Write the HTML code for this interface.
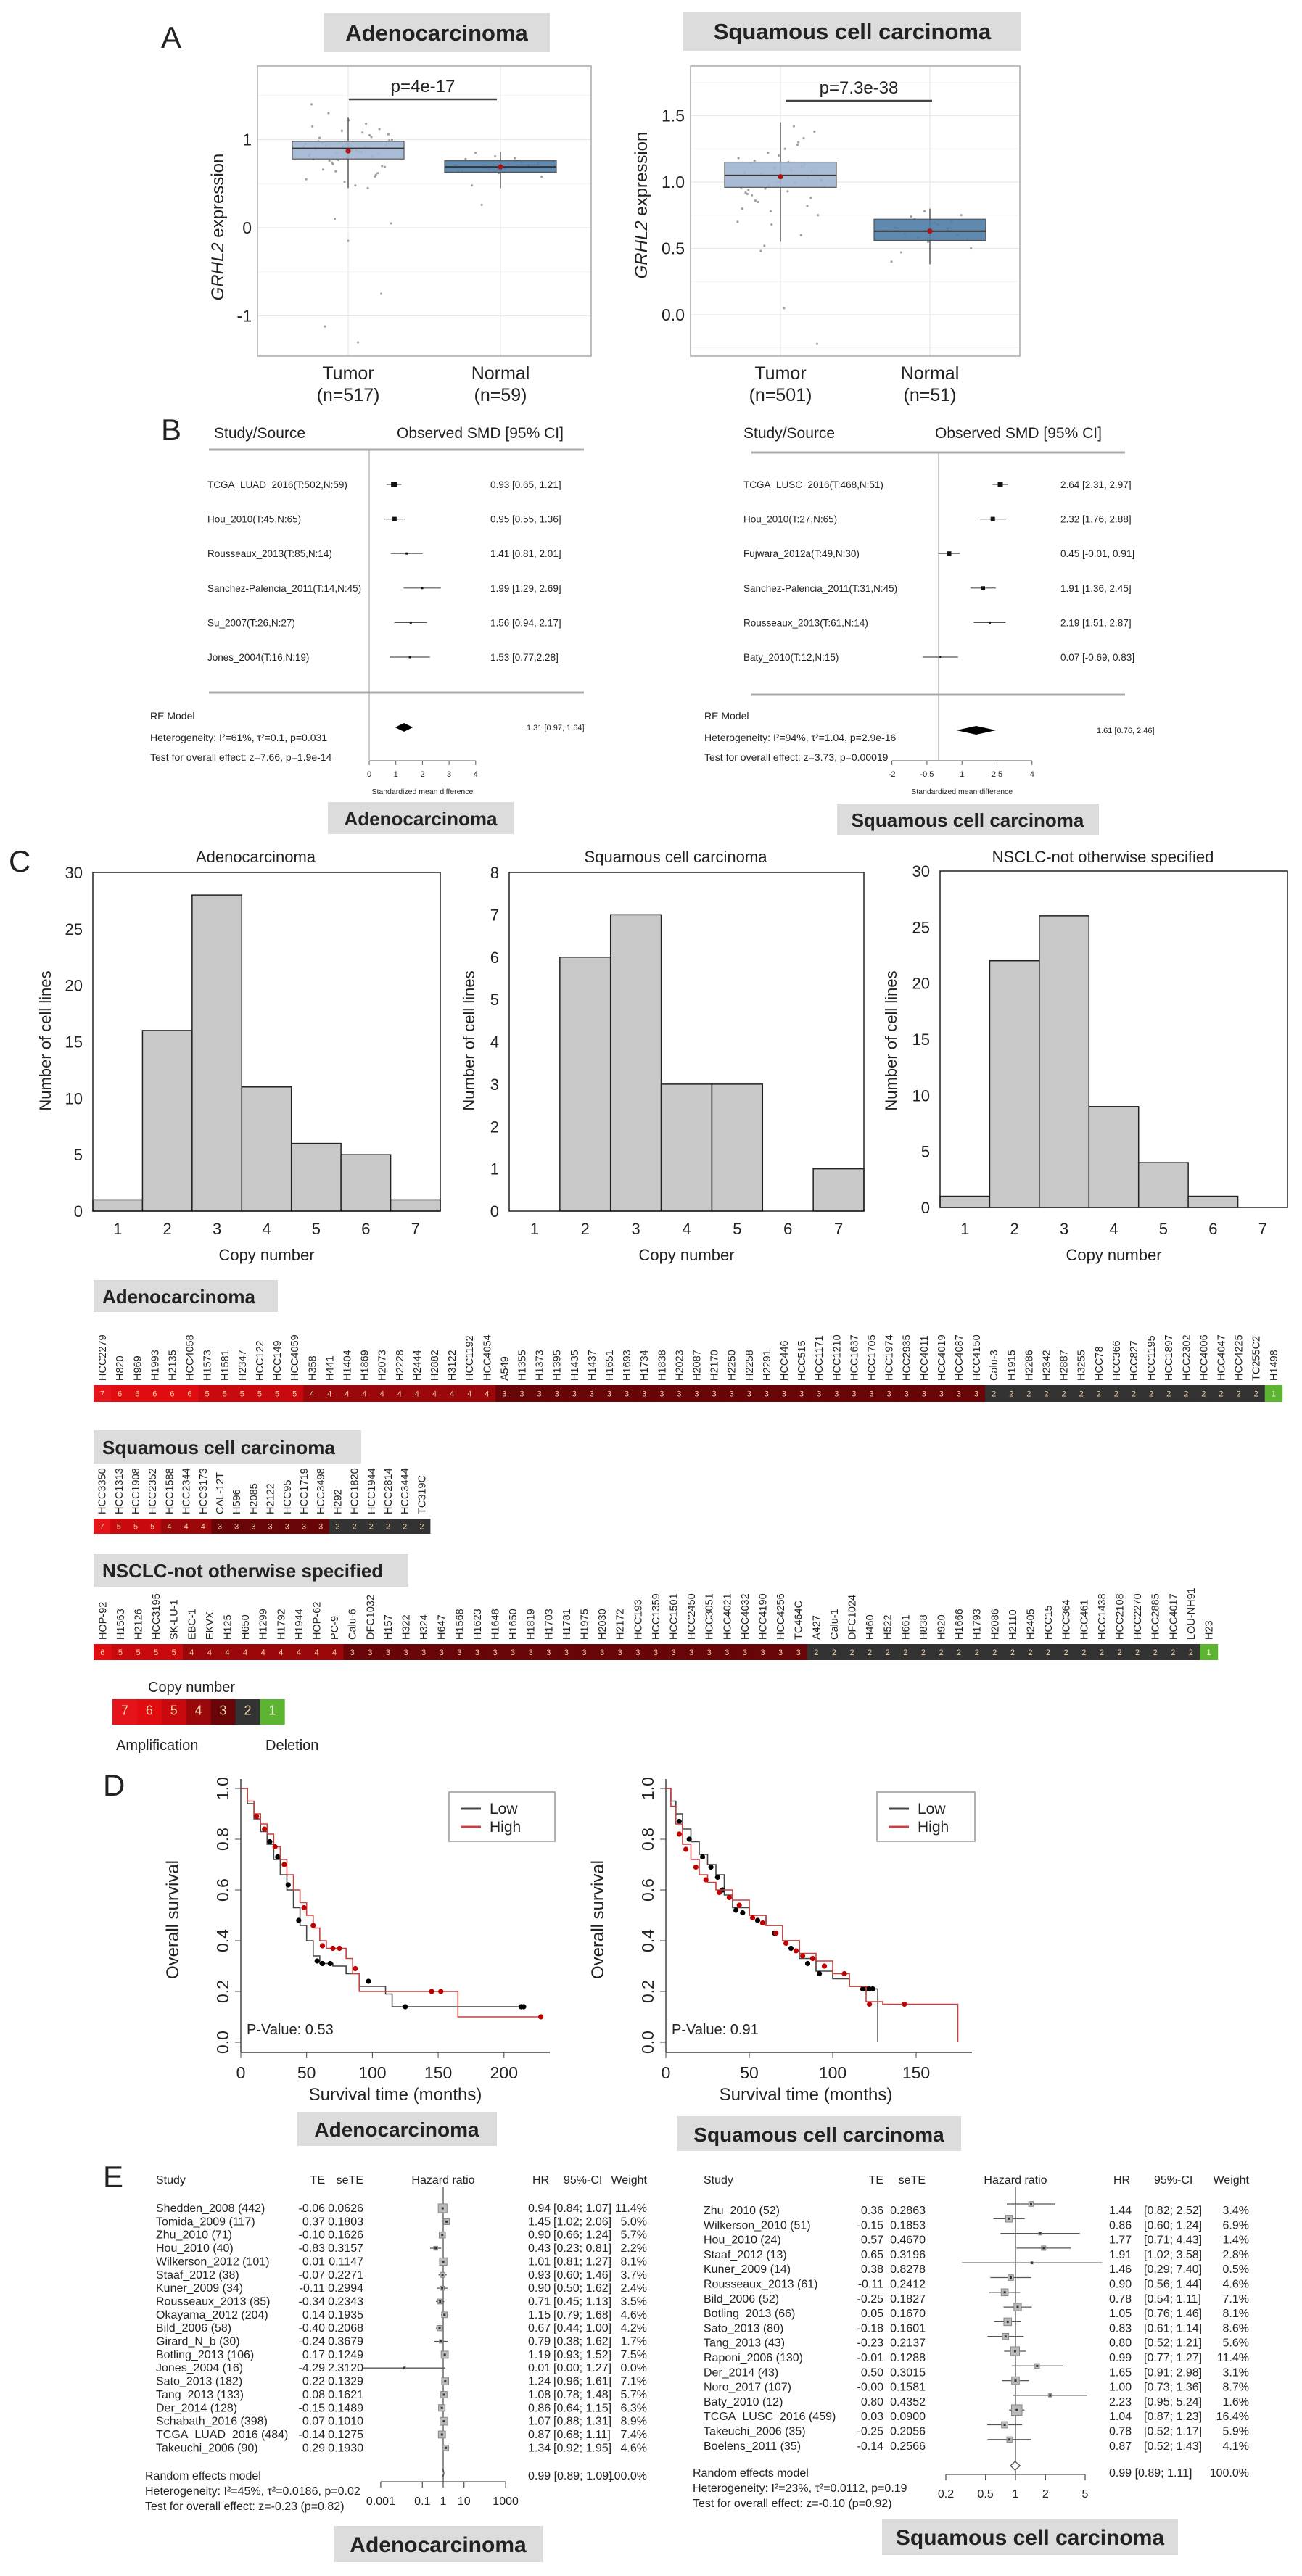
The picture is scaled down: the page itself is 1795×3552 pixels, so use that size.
<!DOCTYPE html>
<html><head><meta charset="utf-8">
<style>
body{margin:0;background:#fff}
svg{display:block;font-family:"Liberation Sans",Arial,sans-serif}
.t{fill:#222}
</style></head>
<body>
<svg id="fig" width="1795" height="3552" viewBox="0 0 1795 3552" xmlns="http://www.w3.org/2000/svg">
<rect x="0" y="0" width="1795" height="3552" fill="#fff"/>
<!-- panel letters -->
<text x="222" y="66" font-size="42" class="t">A</text>
<text x="222" y="607" font-size="42" class="t">B</text>
<text x="12" y="1202" font-size="42" class="t">C</text>
<text x="142" y="2476" font-size="42" class="t">D</text>
<text x="142" y="3016" font-size="42" class="t">E</text>

<!-- title boxes -->
<g><rect x="446" y="18" width="312" height="54" fill="#dcdcdc"/><text x="602" y="56" font-size="31" font-weight="bold" text-anchor="middle" class="t">Adenocarcinoma</text></g>
<g><rect x="942" y="16" width="466" height="54" fill="#dcdcdc"/><text x="1175" y="54" font-size="31" font-weight="bold" text-anchor="middle" class="t">Squamous cell carcinoma</text></g>
<g><rect x="452" y="1106" width="256" height="44" fill="#dcdcdc"/><text x="580" y="1138" font-size="26" font-weight="bold" text-anchor="middle" class="t">Adenocarcinoma</text></g>
<g><rect x="1154" y="1108" width="361" height="44" fill="#dcdcdc"/><text x="1334" y="1140" font-size="26" font-weight="bold" text-anchor="middle" class="t">Squamous cell carcinoma</text></g>
<g><rect x="129" y="1765" width="254" height="44" fill="#dcdcdc"/><text x="141" y="1797" font-size="26" font-weight="bold" class="t">Adenocarcinoma</text></g>
<g><rect x="129" y="1972" width="369" height="46" fill="#dcdcdc"/><text x="141" y="2005" font-size="26" font-weight="bold" class="t">Squamous cell carcinoma</text></g>
<g><rect x="129" y="2143" width="434" height="45" fill="#dcdcdc"/><text x="141" y="2175" font-size="26" font-weight="bold" class="t">NSCLC-not otherwise specified</text></g>
<g><rect x="410" y="2912" width="275" height="47" fill="#dcdcdc"/><text x="547" y="2946" font-size="28" font-weight="bold" text-anchor="middle" class="t">Adenocarcinoma</text></g>
<g><rect x="933" y="2918" width="392" height="48" fill="#dcdcdc"/><text x="1129" y="2953" font-size="28" font-weight="bold" text-anchor="middle" class="t">Squamous cell carcinoma</text></g>
<g><rect x="460" y="3483" width="289" height="50" fill="#dcdcdc"/><text x="604" y="3519" font-size="30" font-weight="bold" text-anchor="middle" class="t">Adenocarcinoma</text></g>
<g><rect x="1216" y="3473" width="408" height="50" fill="#dcdcdc"/><text x="1420" y="3509" font-size="30" font-weight="bold" text-anchor="middle" class="t">Squamous cell carcinoma</text></g>

<!-- copy number legend -->
<text x="204" y="2333" font-size="20" class="t">Copy number</text>
<text x="160" y="2413" font-size="20" class="t">Amplification</text>
<text x="366" y="2413" font-size="20" class="t">Deletion</text>
</svg>
<script>
const NS='http://www.w3.org/2000/svg';
const svg=document.getElementById('fig');
function add(tag,attrs,parent){const e=document.createElementNS(NS,tag);for(const k in attrs)e.setAttribute(k,attrs[k]);(parent||svg).appendChild(e);return e;}
function txt(x,y,s,attrs,parent){const e=add('text',Object.assign({x:x,y:y,fill:'#222'},attrs||{}),parent);e.textContent=s;return e;}
function fmt(v){if(Object.is(v,-0))return '-0.00';return v.toFixed(2);}

/* ================= PANEL A data ================= */
const boxGroups=['Tumor','Normal'];
const adenoN=['(n=517)','(n=59)'];
const squN=['(n=501)','(n=51)'];
const adenoQ1=[0.78,0.63], adenoMed=[0.90,0.69], adenoQ3=[0.98,0.76], adenoLo=[0.45,0.45], adenoHi=[1.25,0.86], adenoMean=[0.87,0.69];
const squQ1=[0.96,0.56], squMed=[1.05,0.63], squQ3=[1.15,0.72], squLo=[0.55,0.38], squHi=[1.45,0.80], squMean=[1.04,0.63];
const adenoTumorPts=[0.92,0.85,1.05,0.78,0.95,1.12,0.66,0.88,0.99,0.72,1.18,0.83,0.91,0.60,1.02,0.87,0.94,0.76,1.08,0.55,0.97,0.81,0.89,1.22,0.70,0.93,0.86,1.00,0.64,0.90,1.15,0.79,0.84,0.96,0.48,1.06,0.74,0.92,0.82,1.10,0.58,0.98,0.88,0.69,1.30,0.86,0.95,0.77,1.03,0.91,-0.15,-0.75,-1.12,-1.30,0.05,0.10,0.45,1.40,0.52,0.62];
const adenoNormalPts=[0.70,0.66,0.74,0.78,0.62,0.69,0.85,0.72,0.58,0.68,0.76,0.64,0.81,0.71,0.48,0.67,0.73,0.26,0.79,0.65];
const squTumorPts=[1.05,0.98,1.12,0.92,1.20,1.08,0.86,1.15,1.01,0.95,1.30,0.80,1.10,1.03,0.90,1.25,0.75,1.06,0.99,1.18,0.68,1.13,0.94,1.04,1.38,0.85,1.09,0.97,1.22,0.60,1.07,1.00,0.88,1.16,0.93,1.02,0.52,1.28,0.96,1.11,0.82,1.14,0.05,-0.22,0.48,1.42,0.70,0.78,1.33,0.91];
const squNormalPts=[0.63,0.58,0.70,0.66,0.55,0.75,0.61,0.68,0.50,0.72,0.64,0.40,0.78,0.60,0.47,0.69,0.57,0.74];
const adenoTicks=[-1,0,1], squTicks=[0.0,0.5,1.0,1.5];

function boxPanel(o){
  const y=v=>o.y0-v*o.k;
  const g=add('g',{});
  
  
  add('rect',{x:o.x1,y:91,width:o.x2-o.x1,height:400,fill:'#fff'},g);
  // minor grid
  for(let i=0;i<o.ticks.length;i++){
    const m=o.ticks[i]+o.step/2; if(y(m)>91&&y(m)<491) add('line',{x1:o.x1,x2:o.x2,y1:y(m),y2:y(m),stroke:'#f4f4f4','stroke-width':1},g);
    const m2=o.ticks[i]-o.step/2; if(i==0&&y(m2)>91&&y(m2)<491) add('line',{x1:o.x1,x2:o.x2,y1:y(m2),y2:y(m2),stroke:'#f4f4f4','stroke-width':1},g);
  }
  o.ticks.forEach((t,i)=>{
    const gl=add('line',{x1:o.x1,x2:o.x2,y1:y(t),y2:y(t),stroke:'#e8e8e8','stroke-width':1.2},g);
    
    
    const tl=txt(o.x1-8,y(t)+8,o.tickLabels[i],{'font-size':23,'text-anchor':'end'},g);
    
    
  });
  o.cx.forEach(c=>add('line',{x1:c,x2:c,y1:91,y2:491,stroke:'#e8e8e8','stroke-width':1.2},g));
  // points
  o.pts.forEach((arr,gi)=>{
    arr.forEach((v,i)=>{
      const dx=(((i*37)%100)/100-0.5)*o.hw*1.6;
      const p=add('circle',{cx:o.cx[gi]+dx,cy:y(v),r:1.6,fill:'#555','fill-opacity':0.55},g);
      
      
    });
  });
  for(let gi=0;gi<2;gi++){
    const c=o.cx[gi];
    const wl=add('line',{x1:c,x2:c,y1:y(o.hi[gi]),y2:y(o.lo[gi]),stroke:'#333','stroke-width':1.2},g);
    
    
    const b=add('rect',{x:c-o.hw,y:y(o.q3[gi]),width:2*o.hw,height:y(o.q1[gi])-y(o.q3[gi]),fill:gi==0?'#9fb5d1':'#4f7ca7','fill-opacity':0.9,stroke:'#555','stroke-width':1.2},g);
    
    
    add('line',{x1:c-o.hw,x2:c+o.hw,y1:y(o.med[gi]),y2:y(o.med[gi]),stroke:'#333','stroke-width':2},g);
    const m=add('circle',{cx:c,cy:y(o.mean[gi]),r:3.5,fill:'#b01010'},g);
    
    
    const gl=txt(c,523,boxGroups[gi],{'font-size':25,'text-anchor':'middle'},g);
    
    
    const nl=txt(c,553,o.nl[gi],{'font-size':25,'text-anchor':'middle'},g);
    
    
  }
  add('rect',{x:o.x1,y:91,width:o.x2-o.x1,height:400,fill:'none',stroke:'#aaa','stroke-width':1.5},g);
  // p bar
  add('line',{x1:o.pb[0],x2:o.pb[1],y1:o.pby,y2:o.pby,stroke:'#444','stroke-width':2.5},g);
  const pt=txt((o.pb[0]+o.pb[1])/2,o.pby-10,o.ptext,{'font-size':24,'text-anchor':'middle'},g);
  
  
  const yt=add('text',{x:o.ytx,y:o.yty,'font-size':24,'text-anchor':'middle',fill:'#222',transform:`rotate(-90 ${o.ytx} ${o.yty})`},g);
  yt.innerHTML='<tspan font-style="italic">GRHL2</tspan> expression';
  
  
}
boxPanel({name:'boxplot-adeno',x1:355,x2:815,y0:314,k:121.5,ticks:adenoTicks,tickLabels:['-1','0','1'],step:1,cx:[480,690],hw:77,
  q1:adenoQ1,med:adenoMed,q3:adenoQ3,lo:adenoLo,hi:adenoHi,mean:adenoMean,pts:[adenoTumorPts,adenoNormalPts],nl:adenoN,pb:[481,685],pby:137,ptext:'p=4e-17',ytx:308,yty:313});
boxPanel({name:'boxplot-squamous',x1:952,x2:1406,y0:434,k:183,ticks:squTicks,tickLabels:['0.0','0.5','1.0','1.5'],step:0.5,cx:[1076,1282],hw:77,
  q1:squQ1,med:squMed,q3:squQ3,lo:squLo,hi:squHi,mean:squMean,pts:[squTumorPts,squNormalPts],nl:squN,pb:[1083,1285],pby:139,ptext:'p=7.3e-38',ytx:892,yty:283});

/* ================= PANEL B data ================= */
const bStudiesL=['TCGA_LUAD_2016(T:502,N:59)','Hou_2010(T:45,N:65)','Rousseaux_2013(T:85,N:14)','Sanchez-Palencia_2011(T:14,N:45)','Su_2007(T:26,N:27)','Jones_2004(T:16,N:19)'];
const bSmdL=[0.93,0.95,1.41,1.99,1.56,1.53];
const bLoL=[0.65,0.55,0.81,1.29,0.94,0.77];
const bHiL=[1.21,1.36,2.01,2.69,2.17,2.28];
const bTxtL=['0.93 [0.65, 1.21]','0.95 [0.55, 1.36]','1.41 [0.81, 2.01]','1.99 [1.29, 2.69]','1.56 [0.94, 2.17]','1.53 [0.77,2.28]'];
const bSizeL=[8,6,3,3,3,3];
const bStudiesR=['TCGA_LUSC_2016(T:468,N:51)','Hou_2010(T:27,N:65)','Fujwara_2012a(T:49,N:30)','Sanchez-Palencia_2011(T:31,N:45)','Rousseaux_2013(T:61,N:14)','Baty_2010(T:12,N:15)'];
const bSmdR=[2.64,2.32,0.45,1.91,2.19,0.07];
const bLoR=[2.31,1.76,-0.01,1.36,1.51,-0.69];
const bHiR=[2.97,2.88,0.91,2.45,2.87,0.83];
const bTxtR=['2.64 [2.31, 2.97]','2.32 [1.76, 2.88]','0.45 [-0.01, 0.91]','1.91 [1.36, 2.45]','2.19 [1.51, 2.87]','0.07 [-0.69, 0.83]'];
const bSizeR=[7,6,6,5,3,2];
const bRE=[1.31,0.97,1.64], bRER=[1.61,0.76,2.46];
const bTicksL=[0,1,2,3,4], bTicksR=[-2,-0.5,1,2.5,4];

function forestB(o){
  const x=v=>o.x0+v*o.k;
  const g=add('g',{});
  
  
  txt(o.hx1,604,'Study/Source',{'font-size':21},g);
  txt(o.hx2,604,'Observed SMD [95% CI]',{'font-size':21},g);
  add('line',{x1:o.l1,x2:o.l2,y1:o.ly,y2:o.ly,stroke:'#aaa','stroke-width':3},g);
  add('line',{x1:o.l1,x2:o.l2,y1:o.by,y2:o.by,stroke:'#aaa','stroke-width':3},g);
  add('line',{x1:o.x0,x2:o.x0,y1:o.ly,y2:1048,stroke:'#999','stroke-width':1},g);
  o.st.forEach((s,i)=>{
    const yy=668+i*47.6;
    const l=txt(o.lx,yy+5,s,{'font-size':13.5},g);
    
    
    const ci=add('line',{x1:x(o.lo[i]),x2:x(o.hi[i]),y1:yy,y2:yy,stroke:'#555','stroke-width':1.2},g);
    
    
    const sz=o.sz[i];
    const sq=add('rect',{x:x(o.v[i])-sz/2,y:yy-sz/2,width:sz,height:sz,fill:'#111'},g);
    
    
    const vt=txt(o.vx,yy+5,o.tx[i],{'font-size':13.5},g);
    
    
  });
  txt(o.rx,992,'RE Model',{'font-size':14},g);
  txt(o.rx,1022,o.het,{'font-size':14},g);
  txt(o.rx,1049,o.test,{'font-size':14},g);
  const d=o.re, dy=o.dy;
  const dm=add('polygon',{points:`${x(d[1])},${dy} ${x(d[0])},${dy-6} ${x(d[2])},${dy} ${x(d[0])},${dy+6}`,fill:'#000'},g);
  
  
  txt(o.vx+50,dy+4,`${d[0].toFixed(2)} [${d[1].toFixed(2)}, ${d[2].toFixed(2)}]`,{'font-size':11},g);
  const ay=1049;
  add('line',{x1:x(o.ticks[0]),x2:x(o.ticks[o.ticks.length-1]),y1:ay,y2:ay,stroke:'#555','stroke-width':1},g);
  o.ticks.forEach(t=>{add('line',{x1:x(t),x2:x(t),y1:ay,y2:ay+6,stroke:'#555'},g);
    const tl=txt(x(t),1071,String(t),{'font-size':11,'text-anchor':'middle'},g);
    
    });
  txt((x(o.ticks[0])+x(o.ticks[o.ticks.length-1]))/2,1095,'Standardized mean difference',{'font-size':10.5,'text-anchor':'middle'},g);
}
forestB({name:'forest-smd-adeno',x0:509,k:36.7,hx1:295,hx2:547,l1:288,l2:805,ly:620,by:955,lx:286,vx:676,rx:207,st:bStudiesL,v:bSmdL,lo:bLoL,hi:bHiL,tx:bTxtL,sz:bSizeL,re:bRE,dy:1003,ticks:bTicksL,
  het:'Heterogeneity: I²=61%, τ²=0.1, p=0.031',test:'Test for overall effect: z=7.66, p=1.9e-14'});
forestB({name:'forest-smd-squamous',x0:1294,k:32.2,hx1:1025,hx2:1289,l1:1036,l2:1551,ly:624,by:958,lx:1025,vx:1462,rx:971,st:bStudiesR,v:bSmdR,lo:bLoR,hi:bHiR,tx:bTxtR,sz:bSizeR,re:bRER,dy:1007,ticks:bTicksR,
  het:'Heterogeneity: I²=94%, τ²=1.04, p=2.9e-16',test:'Test for overall effect: z=3.73, p=0.00019'});

/* ================= PANEL C data ================= */
const cnCategories=[1,2,3,4,5,6,7];
const adenoCounts=[1,16,28,11,6,5,1];
const squCounts=[0,6,7,3,3,0,1];
const nosCounts=[1,22,26,9,4,1,0];
const adenoYTicks=[0,5,10,15,20,25,30];
const squYTicks=[0,1,2,3,4,5,6,7,8];
const nosYTicks=[0,5,10,15,20,25,30];

function hist(o){
  const g=add('g',{});
  
  
  const ymax=o.ticks[o.ticks.length-1];
  const y=v=>o.yb-(v/ymax)*(o.yb-o.yt);
  const bw=(o.x2-o.x1)/cnCategories.length;
  txt((o.x1+o.x2)/2-15,1189,o.title,{'font-size':22,'text-anchor':'middle'},g);
  o.counts.forEach((c,i)=>{
    if(c>0){const b=add('rect',{x:o.x1+i*bw,y:y(c),width:bw,height:o.yb-y(c),fill:'#c8c8c8',stroke:'#222','stroke-width':1.5},g);
    
    }
    const tl=txt(o.x1+(i+0.5)*bw,1702,String(cnCategories[i]),{'font-size':22,'text-anchor':'middle'},g);
    
    
  });
  o.ticks.forEach(t=>{
    const tl=txt(o.x1-14,y(t)+8,String(t),{'font-size':22,'text-anchor':'end'},g);
    
    
  });
  add('rect',{x:o.x1,y:o.yt,width:o.x2-o.x1,height:o.yb-o.yt,fill:'none',stroke:'#222','stroke-width':1.5},g);
  txt((o.x1+o.x2)/2,1738,'Copy number',{'font-size':22,'text-anchor':'middle'},g);
  txt(o.ytx,1435,'Number of cell lines',{'font-size':22,'text-anchor':'middle',transform:`rotate(-90 ${o.ytx} 1435)`},g);
}
hist({name:'hist-adeno',x1:128,x2:607,yt:1203,yb:1670,counts:adenoCounts,ticks:adenoYTicks,title:'Adenocarcinoma',ytx:70});
hist({name:'hist-squamous',x1:702,x2:1191,yt:1203,yb:1670,counts:squCounts,ticks:squYTicks,title:'Squamous cell carcinoma',ytx:654});
hist({name:'hist-nsclc-nos',x1:1296,x2:1775,yt:1201,yb:1665,counts:nosCounts,ticks:nosYTicks,title:'NSCLC-not otherwise specified',ytx:1236});

/* ================= heatmaps ================= */
const adenoLines=['HCC2279','H820','H969','H1993','H2135','HCC4058','H1573','H1581','H2347','HCC122','HCC149','HCC4059','H358','H441','H1404','H1869','H2073','H2228','H2444','H2882','H3122','HCC1192','HCC4054','A549','H1355','H1373','H1395','H1435','H1437','H1651','H1693','H1734','H1838','H2023','H2087','H2170','H2250','H2258','H2291','HCC446','HCC515','HCC1171','HCC1210','HCC1637','HCC1705','HCC1974','HCC2935','HCC4011','HCC4019','HCC4087','HCC4150','Calu-3','H1915','H2286','H2342','H2887','H3255','HCC78','HCC366','HCC827','HCC1195','HCC1897','HCC2302','HCC4006','HCC4047','HCC4225','TC255C2','H1498'];
const adenoCN=[7,6,6,6,6,6,5,5,5,5,5,5,4,4,4,4,4,4,4,4,4,4,4,3,3,3,3,3,3,3,3,3,3,3,3,3,3,3,3,3,3,3,3,3,3,3,3,3,3,3,3,2,2,2,2,2,2,2,2,2,2,2,2,2,2,2,2,1];
const squLines=['HCC3350','HCC1313','HCC1908','HCC2352','HCC1588','HCC2344','HCC3173','CAL-12T','H596','H2085','H2122','HCC95','HCC1719','HCC3498','H292','HCC1820','HCC1944','HCC2814','HCC3444','TC319C'];
const squCN=[7,5,5,5,4,4,4,3,3,3,3,3,3,3,2,2,2,2,2,2];
const nosLines=['HOP-92','H1563','H2126','HCC3195','SK-LU-1','EBC-1','EKVX','H125','H650','H1299','H1792','H1944','HOP-62','PC-9','Calu-6','DFC1032','H157','H322','H324','H647','H1568','H1623','H1648','H1650','H1819','H1703','H1781','H1975','H2030','H2172','HCC193','HCC1359','HCC1501','HCC2450','HCC3051','HCC4021','HCC4032','HCC4190','HCC4256','TC464C','A427','Calu-1','DFC1024','H460','H522','H661','H838','H920','H1666','H1793','H2086','H2110','H2405','HCC15','HCC364','HCC461','HCC1438','HCC2108','HCC2270','HCC2885','HCC4017','LOU-NH91','H23'];
const nosCN=[6,5,5,5,5,4,4,4,4,4,4,4,4,4,3,3,3,3,3,3,3,3,3,3,3,3,3,3,3,3,3,3,3,3,3,3,3,3,3,3,2,2,2,2,2,2,2,2,2,2,2,2,2,2,2,2,2,2,2,2,2,2,1];
const legendCN=[7,6,5,4,3,2,1];
const cnColor={7:'#e4141a',6:'#e00c10',5:'#c80a0e',4:'#9a080c',3:'#680508',2:'#333333',1:'#5cb432'};

function heat(o){
  const g=add('g',{});
  
  
  o.cn.forEach((c,i)=>{
    const x=o.x+i*o.w;
    const cell=add('rect',{x:x,y:o.y,width:o.w+0.4,height:o.h,fill:cnColor[c]},g);
    
    
    const n=txt(x+o.w/2,o.y+o.h/2+4,String(c),{'font-size':o.fs||11,'text-anchor':'middle',fill:c==1?'#e8f5d0':'#f3d2a8'},g);
    
    
    if(o.names){
      const lx=x+o.w/2+5, ly=o.y-6;
      const l=txt(lx,ly,o.names[i],{'font-size':14.5,transform:`rotate(-90 ${lx} ${ly})`},g);
      
      
    }
  });
}
heat({name:'heatmap-adeno',x:129,y:1910,w:24.1,h:23,cn:adenoCN,names:adenoLines});
heat({name:'heatmap-squamous',x:129,y:2094,w:23.2,h:21,cn:squCN,names:squLines});
heat({name:'heatmap-nsclc-nos',x:129,y:2267,w:24.6,h:22,cn:nosCN,names:nosLines});
heat({name:'cn-legend-strip',x:155,y:2343,w:33.9,h:35,cn:legendCN,fs:18});

/* ================= PANEL D data ================= */
const kmAdenoLowT=[0,5,10,15,20,25,30,35,40,45,50,55,60,70,80,90,100,110,115,215];
const kmAdenoLowS=[1,0.94,0.88,0.83,0.78,0.72,0.66,0.60,0.53,0.46,0.40,0.34,0.31,0.30,0.27,0.22,0.22,0.19,0.14,0.14];
const kmAdenoHighT=[0,5,10,15,20,25,30,35,40,45,50,55,60,65,80,85,90,165,228];
const kmAdenoHighS=[1,0.95,0.90,0.86,0.82,0.77,0.72,0.66,0.60,0.55,0.50,0.45,0.40,0.37,0.33,0.27,0.20,0.10,0.10];
const kmAdenoLowCensT=[22,28,36,44,58,62,68,97,125,213,215];
const kmAdenoLowCensS=[0.79,0.73,0.62,0.48,0.32,0.31,0.31,0.24,0.14,0.14,0.14];
const kmAdenoHighCensT=[12,18,26,33,48,55,62,70,75,87,145,152,228];
const kmAdenoHighCensS=[0.89,0.84,0.77,0.70,0.53,0.46,0.38,0.37,0.37,0.29,0.20,0.20,0.10];
const kmSquLowT=[0,3,6,10,15,20,25,30,35,40,50,60,70,80,90,100,110,120,127];
const kmSquLowS=[1,0.95,0.90,0.84,0.79,0.74,0.70,0.66,0.58,0.53,0.50,0.46,0.40,0.33,0.28,0.25,0.22,0.21,0.0];
const kmSquHighT=[0,3,6,10,15,20,25,30,40,50,60,70,80,90,100,110,120,130,175];
const kmSquHighS=[1,0.93,0.86,0.78,0.72,0.66,0.63,0.60,0.56,0.50,0.46,0.40,0.35,0.32,0.27,0.22,0.16,0.15,0.0];
const kmSquLowCensT=[8,14,22,27,31,34,42,46,55,65,75,85,92,118,120,122,124];
const kmSquLowCensS=[0.87,0.80,0.73,0.69,0.65,0.60,0.52,0.51,0.48,0.43,0.37,0.31,0.27,0.21,0.21,0.21,0.21];
const kmSquHighCensT=[8,12,18,24,32,38,44,52,58,66,72,78,82,88,95,107,122,143];
const kmSquHighCensS=[0.82,0.76,0.69,0.64,0.59,0.57,0.54,0.49,0.47,0.43,0.39,0.36,0.34,0.33,0.30,0.27,0.15,0.15];
const kmYTicks=[0,0.2,0.4,0.6,0.8,1.0];
const kmAdenoXTicks=[0,50,100,150,200];
const kmSquXTicks=[0,50,100,150];

function km(o){
  const g=add('g',{});
  
  
  const x=t=>o.x0+t*o.k;
  const y=s=>2816-s*350;
  // axes
  add('line',{x1:o.x0,x2:o.xe,y1:2830,y2:2830,stroke:'#444','stroke-width':1.5},g);
  add('line',{x1:o.x0,x2:o.x0,y1:2453,y2:2830,stroke:'#444','stroke-width':1.5},g);
  o.xt.forEach(t=>{add('line',{x1:x(t),x2:x(t),y1:2830,y2:2838,stroke:'#444'},g);
    const tl=txt(x(t),2866,String(t),{'font-size':23,'text-anchor':'middle'},g);
    
    });
  kmYTicks.forEach(s=>{add('line',{x1:o.x0-8,x2:o.x0,y1:y(s),y2:y(s),stroke:'#444'},g);
    const lx=o.x0-17;
    const tl=txt(lx,y(s),s.toFixed(1),{'font-size':23,'text-anchor':'middle',transform:`rotate(-90 ${lx} ${y(s)})`},g);
    
    });
  txt(o.x0-86,2647,'Overall survival',{'font-size':24,'text-anchor':'middle',transform:`rotate(-90 ${o.x0-86} 2647)`},g);
  txt(o.xc,2896,'Survival time (months)',{'font-size':24,'text-anchor':'middle'},g);
  const series=[[o.lt,o.ls,'#444','#000',o.lct,o.lcs,'km-curve-low'],[o.ht,o.hs,'#c84040','#c00000',o.hct,o.hcs,'km-curve-high']];
  series.forEach(([T,S,col,dot,CT,CS,nm])=>{
    let d=`M${x(T[0])},${y(S[0])}`;
    for(let i=1;i<T.length;i++){d+=` H${x(T[i])} V${y(S[i])}`;}
    const p=add('path',{d:d,fill:'none',stroke:col,'stroke-width':1.6},g);
    
    
    CT.forEach((t,i)=>{const c=add('circle',{cx:x(t),cy:y(CS[i]),r:3.6,fill:dot},g);
      
      });
  });
  const lg=add('g',{},g);
  
  
  add('rect',{x:o.lx,y:2471,width:o.lw,height:68,fill:'#fff',stroke:'#999','stroke-width':1.5},lg);
  add('line',{x1:o.lx+16,x2:o.lx+44,y1:2494,y2:2494,stroke:'#444','stroke-width':3},lg);
  add('line',{x1:o.lx+16,x2:o.lx+44,y1:2519,y2:2519,stroke:'#c84040','stroke-width':3},lg);
  txt(o.lx+56,2501,'Low',{'font-size':21},lg);
  txt(o.lx+56,2526,'High',{'font-size':21},lg);
  const pv=txt(o.x0+8,2805,o.pv,{'font-size':20},g);
  
  
}
km({name:'km-adeno',x0:332,xe:758,k:1.814,xt:kmAdenoXTicks,xc:545,lt:kmAdenoLowT,ls:kmAdenoLowS,ht:kmAdenoHighT,hs:kmAdenoHighS,lct:kmAdenoLowCensT,lcs:kmAdenoLowCensS,hct:kmAdenoHighCensT,hcs:kmAdenoHighCensS,lx:619,lw:146,pv:'P-Value: 0.53'});
km({name:'km-squamous',x0:918,xe:1340,k:2.3,xt:kmSquXTicks,xc:1111,lt:kmSquLowT,ls:kmSquLowS,ht:kmSquHighT,hs:kmSquHighS,lct:kmSquLowCensT,lcs:kmSquLowCensS,hct:kmSquHighCensT,hcs:kmSquHighCensS,lx:1209,lw:135,pv:'P-Value: 0.91'});

/* ================= PANEL E data ================= */
const eStudiesL=['Shedden_2008 (442)','Tomida_2009 (117)','Zhu_2010 (71)','Hou_2010 (40)','Wilkerson_2012 (101)','Staaf_2012 (38)','Kuner_2009 (34)','Rousseaux_2013 (85)','Okayama_2012 (204)','Bild_2006 (58)','Girard_N_b (30)','Botling_2013 (106)','Jones_2004 (16)','Sato_2013 (182)','Tang_2013 (133)','Der_2014 (128)','Schabath_2016 (398)','TCGA_LUAD_2016 (484)','Takeuchi_2006 (90)'];
const eTeL=[-0.06,0.37,-0.10,-0.83,0.01,-0.07,-0.11,-0.34,0.14,-0.40,-0.24,0.17,-4.29,0.22,0.08,-0.15,0.07,-0.14,0.29];
const eSeL=[0.0626,0.1803,0.1626,0.3157,0.1147,0.2271,0.2994,0.2343,0.1935,0.2068,0.3679,0.1249,2.3120,0.1329,0.1621,0.1489,0.1010,0.1275,0.1930];
const eHrL=['0.94','1.45','0.90','0.43','1.01','0.93','0.90','0.71','1.15','0.67','0.79','1.19','0.01','1.24','1.08','0.86','1.07','0.87','1.34'];
const eCiL=['[0.84; 1.07]','[1.02; 2.06]','[0.66; 1.24]','[0.23; 0.81]','[0.81; 1.27]','[0.60; 1.46]','[0.50; 1.62]','[0.45; 1.13]','[0.79; 1.68]','[0.44; 1.00]','[0.38; 1.62]','[0.93; 1.52]','[0.00; 1.27]','[0.96; 1.61]','[0.78; 1.48]','[0.64; 1.15]','[0.88; 1.31]','[0.68; 1.11]','[0.92; 1.95]'];
const eWL=[11.4,5.0,5.7,2.2,8.1,3.7,2.4,3.5,4.6,4.2,1.7,7.5,0.0,7.1,5.7,6.3,8.9,7.4,4.6];
const eStudiesR=['Zhu_2010 (52)','Wilkerson_2010 (51)','Hou_2010 (24)','Staaf_2012 (13)','Kuner_2009 (14)','Rousseaux_2013 (61)','Bild_2006 (52)','Botling_2013 (66)','Sato_2013 (80)','Tang_2013 (43)','Raponi_2006 (130)','Der_2014 (43)','Noro_2017 (107)','Baty_2010 (12)','TCGA_LUSC_2016 (459)','Takeuchi_2006 (35)','Boelens_2011 (35)'];
const eTeR=[0.36,-0.15,0.57,0.65,0.38,-0.11,-0.25,0.05,-0.18,-0.23,-0.01,0.50,-0.00,0.80,0.03,-0.25,-0.14];
const eSeR=[0.2863,0.1853,0.4670,0.3196,0.8278,0.2412,0.1827,0.1670,0.1601,0.2137,0.1288,0.3015,0.1581,0.4352,0.0900,0.2056,0.2566];
const eHrR=['1.44','0.86','1.77','1.91','1.46','0.90','0.78','1.05','0.83','0.80','0.99','1.65','1.00','2.23','1.04','0.78','0.87'];
const eCiR=['[0.82; 2.52]','[0.60; 1.24]','[0.71; 4.43]','[1.02; 3.58]','[0.29; 7.40]','[0.56; 1.44]','[0.54; 1.11]','[0.76; 1.46]','[0.61; 1.14]','[0.52; 1.21]','[0.77; 1.27]','[0.91; 2.98]','[0.73; 1.36]','[0.95; 5.24]','[0.87; 1.23]','[0.52; 1.17]','[0.52; 1.43]'];
const eWR=[3.4,6.9,1.4,2.8,0.5,4.6,7.1,8.1,8.6,5.6,11.4,3.1,8.7,1.6,16.4,5.9,4.1];
const eTicksL=[0.001,0.1,1,10,1000];
const eTicksR=[0.2,0.5,1,2,5];

function forestE(o){
  const g=add('g',{});
  
  
  const x=hr=>o.x1+Math.log(hr)*o.k;
  const c=o.c;
  txt(c.study,3011,'Study',{'font-size':16},g);
  txt(c.te,3011,'TE',{'font-size':16,'text-anchor':'end'},g);
  txt(c.se,3011,'seTE',{'font-size':16,'text-anchor':'end'},g);
  txt(o.x1,3011,'Hazard ratio',{'font-size':16,'text-anchor':'middle'},g);
  txt(c.hr+6,3011,'HR',{'font-size':16},g);
  txt(c.ci+14,3011,'95%-CI',{'font-size':16},g);
  txt(c.w,3011,'Weight',{'font-size':16,'text-anchor':'end'},g);
  add('line',{x1:o.x1,x2:o.x1,y1:3016,y2:o.ay,stroke:'#555','stroke-width':1.3},g);
  o.st.forEach((s,i)=>{
    const yy=o.y0+i*o.dy;
    const lab=txt(c.study,yy+5,s,{'font-size':16},g);
    
    
    txt(c.te,yy+5,fmt(o.te[i]),{'font-size':16,'text-anchor':'end'},g);
    txt(c.se,yy+5,o.se[i].toFixed(4),{'font-size':16,'text-anchor':'end'},g);
    txt(c.hr,yy+5,o.hr[i],{'font-size':16},g);
    txt(c.ci,yy+5,o.ci[i],{'font-size':16},g);
    txt(c.w,yy+5,o.w[i].toFixed(1)+'%',{'font-size':16,'text-anchor':'end'},g);
    const my=yy+o.off;
    let lo=x(Math.exp(o.te[i]-1.96*o.se[i])), hi=x(Math.exp(o.te[i]+1.96*o.se[i]));
    const ln=add('line',{x1:lo,x2:hi,y1:my,y2:my,stroke:'#555','stroke-width':1.3},g);
    
    
    const sz=Math.max(3,3.6*Math.sqrt(o.w[i]));
    const sq=add('rect',{x:x(Math.exp(o.te[i]))-sz/2,y:my-sz/2,width:sz,height:sz,fill:'#bbb',stroke:'#888'},g);
    
    
    add('rect',{x:x(Math.exp(o.te[i]))-1.5,y:my-1.5,width:3,height:3,fill:'#333'},g);
  });
  txt(c.study-15,o.ry,'Random effects model',{'font-size':16},g);
  txt(c.study-15,o.ry+21,o.het,{'font-size':16},g);
  txt(c.study-15,o.ry+42,o.test,{'font-size':16},g);
  txt(c.hr,o.ry,o.reTxt,{'font-size':16},g);
  txt(c.w,o.ry,'100.0%',{'font-size':16,'text-anchor':'end'},g);
  const dm=add('polygon',{points:`${x(o.re[1])},${o.ay-12} ${x(o.re[0])},${o.ay-18} ${x(o.re[2])},${o.ay-12} ${x(o.re[0])},${o.ay-6}`,fill:'#fff',stroke:'#555','stroke-width':1.3},g);
  
  
  add('line',{x1:x(o.ticks[0]),x2:x(o.ticks[o.ticks.length-1]),y1:o.ay,y2:o.ay,stroke:'#555','stroke-width':1.3},g);
  o.ticks.forEach(t=>{add('line',{x1:x(t),x2:x(t),y1:o.ay,y2:o.ay+8,stroke:'#555','stroke-width':1.3},g);
    const tl=txt(x(t),o.ay+32,String(t),{'font-size':16,'text-anchor':'middle'},g);
    
    });
}
forestE({name:'forest-hr-adeno',x1:611,k:28.7/Math.LN10,c:{study:215,te:448,se:501,hr:728,ci:763,w:892},st:eStudiesL,te:eTeL,se:eSeL,hr:eHrL,ci:eCiL,w:eWL,y0:3045,dy:18.35,off:0,ay:3422,ry:3419,ticks:eTicksL,re:[0.99,0.89,1.09],reTxt:'0.99 [0.89; 1.09]',
  het:'Heterogeneity: I²=45%, τ²=0.0186, p=0.02',test:'Test for overall effect: z=-0.23 (p=0.82)'});
forestE({name:'forest-hr-squamous',x1:1400,k:59.65,c:{study:970,te:1218,se:1276,hr:1529,ci:1577,w:1722},st:eStudiesR,te:eTeR,se:eSeR,hr:eHrR,ci:eCiR,w:eWR,y0:3048,dy:20.3,off:-9,ay:3412,ry:3415,ticks:eTicksR,re:[0.99,0.89,1.11],reTxt:'0.99 [0.89; 1.11]',
  het:'Heterogeneity: I²=23%, τ²=0.0112, p=0.19',test:'Test for overall effect: z=-0.10 (p=0.92)'});
</script>
</body></html>
